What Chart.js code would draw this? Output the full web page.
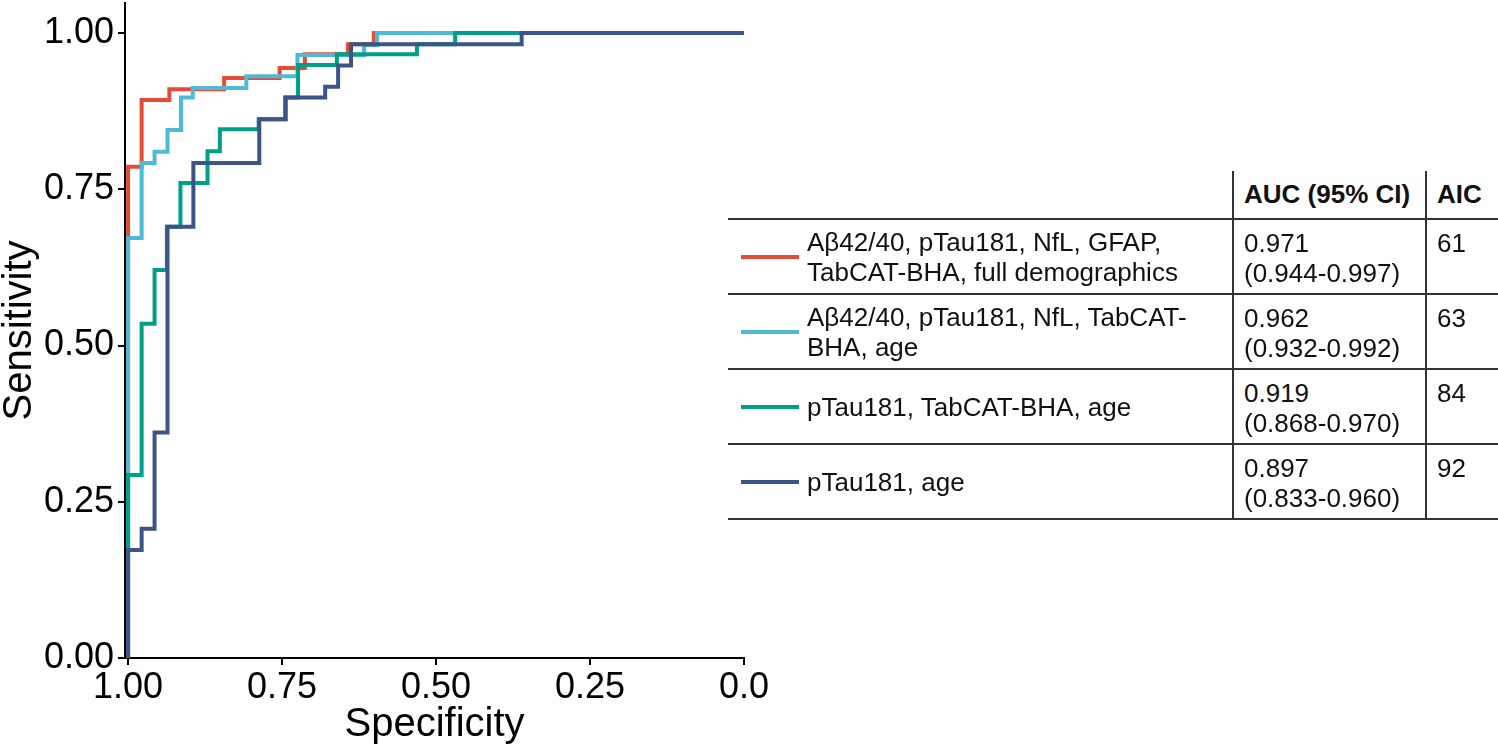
<!DOCTYPE html>
<html>
<head>
<meta charset="utf-8">
<script src="https://cdn.jsdelivr.net/npm/chart.js@4"></script>
<style>
  body { margin: 0; background: #fff; width: 1498px; height: 747px; overflow: hidden; position: relative; font-family: 'Liberation Sans', Arial, sans-serif; }
  #wrap { position: absolute; left: 0; top: 0; width: 800px; height: 747px; }
  .t { position: absolute; font-size: 26px; line-height: 30px; color: #111; white-space: nowrap; }
  .b { font-weight: bold; }
  .hl { position: absolute; height: 2px; background: #333; }
  .vl { position: absolute; width: 2px; background: #333; }
  .sw { position: absolute; height: 4px; }
</style>
</head>
<body>
<div id="wrap"><canvas id="roc" width="800" height="747"></canvas></div>
<div id="table"></div>
<script>
// ROC curves (specificity, sensitivity at each step)
const fullSpec = [1.0, 1.0, 0.978, 0.933, 0.844, 0.754, 0.713, 0.643, 0.601, 0.0];
const fullSens = [0, 0.786, 0.893, 0.910, 0.928, 0.944, 0.966, 0.982, 1.0, 1.0];

const noGfapSpec = [1.0, 1.0, 0.978, 0.957, 0.936, 0.914, 0.895, 0.808, 0.725, 0.617, 0.596, 0.0];
const noGfapSens = [0, 0.672, 0.792, 0.810, 0.845, 0.897, 0.912, 0.931, 0.965, 0.981, 1.0, 1.0];

const tabcatSpec = [1.0, 1.0, 0.978, 0.957, 0.937, 0.915, 0.871, 0.851, 0.788, 0.745, 0.724, 0.661, 0.531, 0.469, 0.0];
const tabcatSens = [0, 0.293, 0.535, 0.621, 0.690, 0.760, 0.811, 0.846, 0.862, 0.897, 0.949, 0.966, 0.982, 1.0, 1.0];

const ptauSpec = [1.0, 1.0, 0.978, 0.957, 0.936, 0.894, 0.787, 0.744, 0.680, 0.659, 0.638, 0.361, 0.0];
const ptauSens = [0, 0.173, 0.207, 0.361, 0.690, 0.792, 0.862, 0.897, 0.914, 0.948, 0.982, 1.0, 1.0];

const modelColors = ['#E64B35', '#4DBBD5', '#00A087', '#3C5488'];
const modelLabels = [
    ['A\u03b242/40, pTau181, NfL, GFAP,', 'TabCAT-BHA, full demographics'],
    ['A\u03b242/40, pTau181, NfL, TabCAT-', 'BHA, age'],
    ['pTau181, TabCAT-BHA, age'],
    ['pTau181, age']
];
const aucValues = ['0.971', '0.962', '0.919', '0.897'];
const aucCI = ['(0.944-0.997)', '(0.932-0.992)', '(0.868-0.970)', '(0.833-0.960)'];
const aicValues = ['61', '63', '84', '92'];

const xTicks = [1.0, 0.75, 0.5, 0.25, 0.0];
const xTickLabels = ['1.00', '0.75', '0.50', '0.25', '0.0'];
const yTicks = [0, 0.25, 0.5, 0.75, 1.0];
const yTickLabels = ['0.00', '0.25', '0.50', '0.75', '1.00'];

function toPoints(spec, sens) {
    return spec.map((s, i) => ({ x: s, y: sens[i] }));
}

const curves = [
    toPoints(fullSpec, fullSens),
    toPoints(noGfapSpec, noGfapSens),
    toPoints(tabcatSpec, tabcatSens),
    toPoints(ptauSpec, ptauSens)
];

const family = "'Liberation Sans', Arial, sans-serif";
const tickFont = { family: family, size: 36 };

new Chart(document.getElementById('roc').getContext('2d'), {
    type: 'line',
    data: {
        datasets: curves.map((pts, i) => ({
            label: modelLabels[i].join(' '),
            data: pts,
            borderColor: modelColors[i],
            borderWidth: 4,
            stepped: 'before',
            pointRadius: 0,
            fill: false,
            order: 4 - i
        }))
    },
    options: {
        responsive: false,
        animation: false,
        layout: { padding: { top: 3, right: 56, left: 0, bottom: 0 } },
        plugins: { legend: { display: false }, tooltip: { enabled: false } },
        scales: {
            x: {
                type: 'linear',
                reverse: true,
                min: 0,
                max: 1.005,
                afterBuildTicks: function(scale) {
                    scale.ticks = xTicks.map(v => ({ value: v }));
                },
                afterFit: function(scale) {
                    scale.height = 89;
                    scale.paddingLeft = 0;
                    scale.paddingRight = 0;
                },
                ticks: {
                    font: tickFont,
                    color: '#000',
                    padding: 1,
                    maxRotation: 0,
                    autoSkip: false,
                    callback: function(value) {
                        return xTickLabels[xTicks.indexOf(value)];
                    }
                },
                grid: { drawOnChartArea: false, drawTicks: true, tickLength: 7, color: '#000', lineWidth: 2 },
                border: { display: true, color: '#000', width: 2 },
                title: { display: true, text: 'Specificity', font: { family: family, size: 40, lineHeight: 1 }, color: '#000', padding: { top: 0, bottom: 2 } }
            },
            y: {
                type: 'linear',
                min: 0,
                max: 1.048,
                afterBuildTicks: function(scale) {
                    scale.ticks = yTicks.map(v => ({ value: v }));
                },
                afterFit: function(scale) {
                    scale.width = 125;
                    scale.paddingTop = 0;
                    scale.paddingBottom = 0;
                },
                ticks: {
                    font: tickFont,
                    color: '#000',
                    padding: 4,
                    autoSkip: false,
                    callback: function(value) {
                        return yTickLabels[yTicks.indexOf(value)];
                    }
                },
                grid: { drawOnChartArea: false, drawTicks: true, tickLength: 7, color: '#000', lineWidth: 2 },
                border: { display: true, color: '#000', width: 2 },
                title: { display: true, text: 'Sensitivity', font: { family: family, size: 40, lineHeight: 1 }, color: '#000', padding: { top: 0, bottom: 0 } }
            }
        }
    }
});

// Legend table
const table = document.getElementById('table');
function add(cls, css, text) {
    const el = document.createElement('div');
    el.className = cls;
    Object.assign(el.style, css);
    if (text !== undefined) el.textContent = text;
    table.appendChild(el);
    return el;
}

const rowTop = 219, rowH = 75;
add('t b', { left: '1244px', top: '179px' }, 'AUC (95% CI)');
add('t b', { left: '1437px', top: '179px' }, 'AIC');
for (let r = 0; r <= modelLabels.length; r++) {
    add('hl', { left: '728px', width: '770px', top: (rowTop + r * rowH - 1) + 'px' });
}
const tableBottom = rowTop + modelLabels.length * rowH;
add('vl', { left: '1232px', top: '171px', height: (tableBottom - 171) + 'px' });
add('vl', { left: '1425px', top: '171px', height: (tableBottom - 171) + 'px' });

modelLabels.forEach((lines, i) => {
    const top = rowTop + i * rowH;
    add('sw', { left: '741px', width: '58px', top: (top + rowH / 2 - 2) + 'px', background: modelColors[i] });
    const lab = add('t', { left: '807px', top: (top + (rowH - lines.length * 30) / 2) + 'px' });
    lab.innerHTML = lines.join('<br>');
    add('t', { left: '1244px', top: (top + 9) + 'px' }, aucValues[i]);
    add('t', { left: '1244px', top: (top + 39) + 'px' }, aucCI[i]);
    add('t', { left: '1437px', top: (top + 9) + 'px' }, aicValues[i]);
});
</script>
</body>
</html>
